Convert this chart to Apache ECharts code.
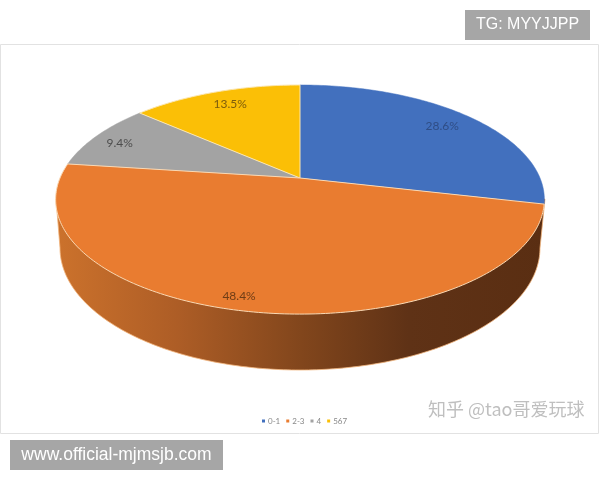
<!DOCTYPE html>
<html>
<head>
<meta charset="utf-8">
<style>html,body{margin:0;padding:0;background:#fff}#chart{width:600px;height:480px}</style>
<script src="https://cdn.jsdelivr.net/npm/echarts@6/dist/echarts.min.js"></script>
</head>
<body>
<div id="chart"></div>
<script>
const categories = ['0-1', '2-3', '4', '567']
const shares = [28.6, 48.4, 9.4, 13.5]
const labels = ['28.6%', '48.4%', '9.4%', '13.5%']
const colors = ['#4270BE', '#E97C30', '#A3A3A3', '#FBBF06']
const labelColors = ['#2f4d85', '#6f3d16', '#4d4d4d', '#7d5c0c']
const edgeColors = [null, '#fad9b4', null, '#fbe6b0']
const labelShift = [[0, 0], [-19, 12], [-10, 1], [2, -1]]

// disc seen in perspective, the slice tip sits above the middle of the ellipse
const tip = {x: 300, y: 178}
const spread = {x: 240, y: 110.5, k: 0.188}
const floor = {x: 300, y: 248, rx: 240, ry: 122}
const total = shares.reduce((a, b) => a + b, 0)

function project(deg, r) {
  const a = deg * Math.PI / 180
  const u = r * Math.sin(a)
  const v = r * Math.cos(a)
  const d = 1 + spread.k * v
  return [tip.x + spread.x * u / d, tip.y - spread.y * v / d]
}

function renderSlice(i) {
  return function (params, api) {
    const start = shares.slice(0, i).reduce((a, b) => a + b, 0) / total * 360
    const end = start + api.value(0) / total * 360
    const points = [[tip.x, tip.y]]
    for (let d = start; d < end; d += 1) points.push(project(d, 1))
    points.push(project(end, 1))
    const mid = project((start + end) / 2, 0.83)
    return {
      type: 'group',
      children: [
        {
          type: 'polygon',
          shape: {points: points},
          style: {fill: colors[i], stroke: edgeColors[i] || colors[i], lineWidth: edgeColors[i] ? 1 : 0.5}
        },
        {
          type: 'text',
          style: {
            x: mid[0] + labelShift[i][0],
            y: mid[1] + labelShift[i][1],
            text: labels[i],
            fill: labelColors[i],
            font: '12px Lato',
            align: 'center',
            verticalAlign: 'middle'
          }
        }
      ]
    }
  }
}

function renderSide() {
  const points = []
  for (let d = 270; d >= 90; d -= 1) {
    const a = d * Math.PI / 180
    points.push([floor.x + floor.rx * Math.sin(a), floor.y - floor.ry * Math.cos(a)])
  }
  points.push([545, 199], [56, 199])
  return {
    type: 'polygon',
    shape: {points: points},
    style: {
      fill: new echarts.graphic.LinearGradient(0, 0, 1, 0, [
        {offset: 0, color: '#cc722c'},
        {offset: 0.25, color: '#ad5d26'},
        {offset: 0.5, color: '#82461c'},
        {offset: 0.72, color: '#5f3216'},
        {offset: 1, color: '#5a2e12'}
      ]),
      stroke: '#f3b57c',
      lineWidth: 0.8
    }
  }
}

// orange goes last so its pale edge stays on top of the neighbours
const drawOrder = [0, 2, 3, 1]

const chart = echarts.init(document.getElementById('chart'), null, {renderer: 'canvas'})
chart.setOption({
  animation: false,
  backgroundColor: '#fff',
  tooltip: {show: false},
  legend: {
    data: categories,
    left: 257,
    top: 412,
    icon: 'rect',
    itemWidth: 3,
    itemHeight: 3,
    itemGap: 6,
    textStyle: {fontSize: 8, color: '#888', fontFamily: 'Lato', padding: [0, 0, 0, -2]}
  },
  graphic: [
    {type: 'rect', z: 0, shape: {x: 0.5, y: 44.5, width: 598, height: 389}, style: {fill: '#fff', stroke: '#e2e2e2', lineWidth: 1}},
    {type: 'rect', z: 10, shape: {x: 465, y: 10, width: 125, height: 30}, style: {fill: '#a6a6a6'}},
    {type: 'text', z: 11, style: {x: 527.5, y: 25, text: 'TG: MYYJJPP', fill: '#fff', font: '16px "Liberation Sans"', align: 'center', verticalAlign: 'middle'}},
    {type: 'rect', z: 10, shape: {x: 10, y: 440, width: 213, height: 30}, style: {fill: '#a6a6a6'}},
    {type: 'text', z: 11, style: {x: 116.5, y: 455, text: 'www.official-mjmsjb.com', fill: '#fff', font: '17.5px "Liberation Sans"', align: 'center', verticalAlign: 'middle'}},
    {type: 'text', z: 11, style: {x: 428, y: 409, text: '知乎 @tao哥爱玩球', fill: '#bfbfbf', font: '18px "Noto Sans CJK SC"', verticalAlign: 'middle'}}
  ],
  series: [
    {type: 'custom', name: 'side', coordinateSystem: 'none', silent: true, z: 1, data: [[0]], renderItem: renderSide}
  ].concat(drawOrder.map((i, n) => ({
    type: 'custom',
    name: categories[i],
    coordinateSystem: 'none',
    silent: true,
    z: 2 + n,
    itemStyle: {color: colors[i]},
    data: [[shares[i]]],
    renderItem: renderSlice(i)
  })))
})
</script>
</body>
</html>
